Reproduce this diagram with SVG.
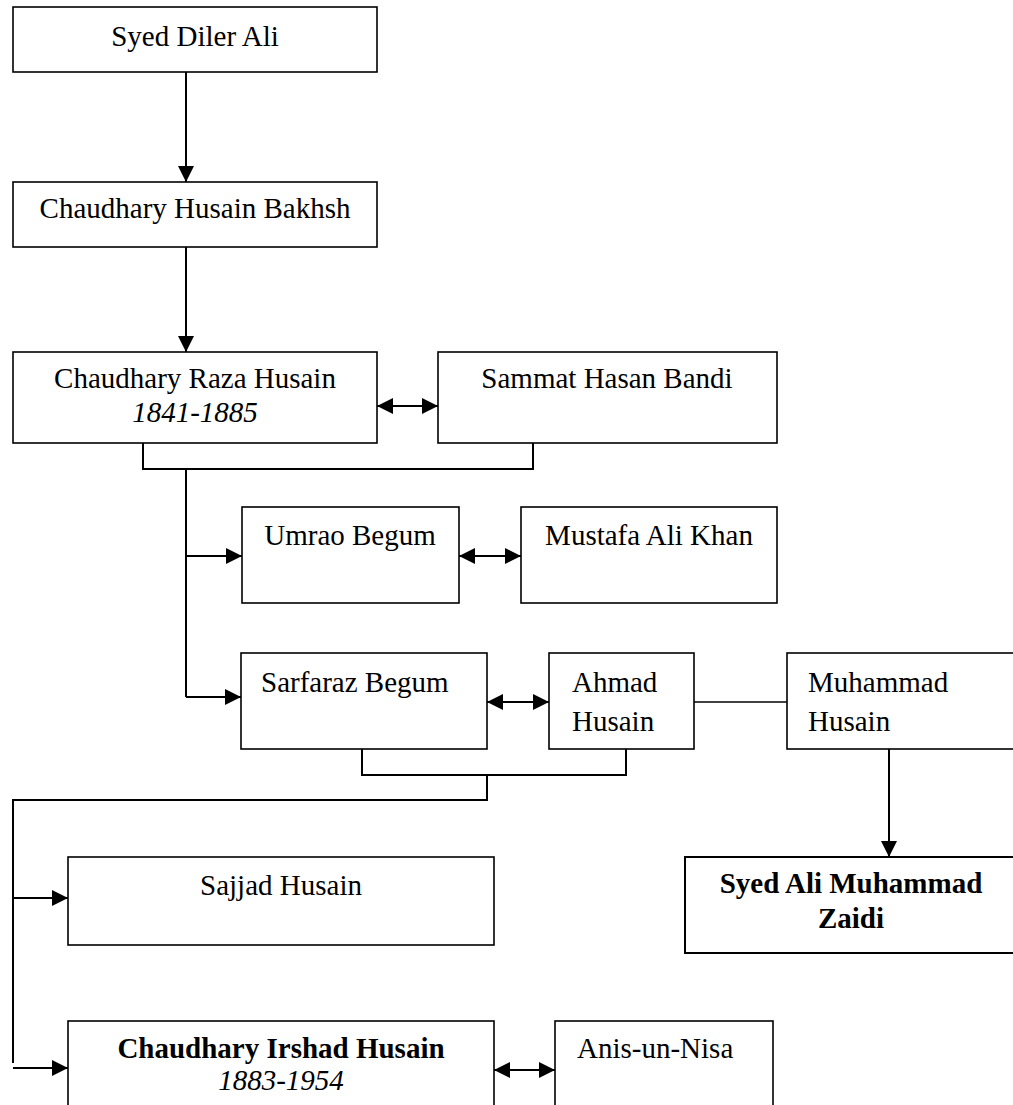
<svg xmlns="http://www.w3.org/2000/svg" width="1013" height="1105" viewBox="0 0 1013 1105">
  <style>
    .box { fill: #ffffff; stroke: #000000; stroke-width: 1.6; }
    .box.strong { stroke-width: 2; }
    .t { font-family: "Liberation Serif", "Times New Roman", serif; font-size: 29px; fill: #000000; }
    .c { text-anchor: middle; }
    .i { font-style: italic; }
    .b { font-weight: bold; }
    .wire { fill: none; stroke: #000000; stroke-width: 2; }
    .arrow { marker-end: url(#head); }
    .both { marker-start: url(#head); marker-end: url(#head); }
  </style>
  <defs>
    <marker id="head" markerUnits="userSpaceOnUse" markerWidth="18" markerHeight="18" refX="16" refY="8" orient="auto-start-reverse">
      <path d="M0,0 L16,8 L0,16 Z" fill="#000000"/>
    </marker>
  </defs>
  <rect width="1013" height="1105" fill="#ffffff"/>

  <!-- connectors -->
  <g id="connectors">
    <line class="wire arrow" x1="186" y1="72" x2="186" y2="182"/>
    <line class="wire arrow" x1="186" y1="247" x2="186" y2="352"/>
    <line class="wire both" x1="377" y1="406" x2="438" y2="406"/>
    <path class="wire" d="M143,443 V469 H533 V443"/>
    <line class="wire" x1="186" y1="469" x2="186" y2="697"/>
    <line class="wire arrow" x1="186" y1="556" x2="242" y2="556"/>
    <line class="wire both" x1="459" y1="556" x2="521" y2="556"/>
    <line class="wire arrow" x1="186" y1="697" x2="241" y2="697"/>
    <line class="wire both" x1="487" y1="702" x2="549" y2="702"/>
    <line class="wire" x1="694" y1="702" x2="787" y2="702" style="stroke-width:1.6"/>
    <path class="wire" d="M362,749 V775 H626 V749"/>
    <path class="wire" d="M487,775 V800 H13 V1063"/>
    <line class="wire arrow" x1="13" y1="898" x2="68" y2="898"/>
    <line class="wire arrow" x1="13" y1="1068" x2="68" y2="1068"/>
    <line class="wire both" x1="494" y1="1070" x2="555" y2="1070"/>
    <line class="wire arrow" x1="889" y1="749" x2="889" y2="857"/>
  </g>

  <!-- people -->
  <g id="syed-diler-ali">
    <rect class="box" x="13" y="7" width="364" height="65"/>
    <text class="t c" x="195" y="46">Syed Diler Ali</text>
  </g>
  <g id="husain-bakhsh">
    <rect class="box" x="13" y="182" width="364" height="65"/>
    <text class="t c" x="195" y="218">Chaudhary Husain Bakhsh</text>
  </g>
  <g id="raza-husain">
    <rect class="box" x="13" y="352" width="364" height="91"/>
    <text class="t c" x="195" y="388">Chaudhary Raza Husain</text>
    <text class="t c i" x="195" y="422">1841-1885</text>
  </g>
  <g id="sammat-hasan-bandi">
    <rect class="box" x="438" y="352" width="339" height="91"/>
    <text class="t c" x="607" y="388">Sammat Hasan Bandi</text>
  </g>
  <g id="umrao-begum">
    <rect class="box" x="242" y="507" width="217" height="96"/>
    <text class="t c" x="350" y="545">Umrao Begum</text>
  </g>
  <g id="mustafa-ali-khan">
    <rect class="box" x="521" y="507" width="256" height="96"/>
    <text class="t c" x="649" y="545">Mustafa Ali Khan</text>
  </g>
  <g id="sarfaraz-begum">
    <rect class="box" x="241" y="653" width="246" height="96"/>
    <text class="t" x="261" y="692">Sarfaraz Begum</text>
  </g>
  <g id="ahmad-husain">
    <rect class="box" x="549" y="653" width="145" height="96"/>
    <text class="t" x="572" y="692">Ahmad</text>
    <text class="t" x="572" y="731">Husain</text>
  </g>
  <g id="muhammad-husain">
    <rect class="box" x="787" y="653" width="240" height="96"/>
    <text class="t" x="808" y="692">Muhammad</text>
    <text class="t" x="808" y="731">Husain</text>
  </g>
  <g id="ali-muhammad-zaidi">
    <rect class="box strong" x="685" y="857" width="340" height="96"/>
    <text class="t c b" x="851" y="893">Syed Ali Muhammad</text>
    <text class="t c b" x="851" y="928">Zaidi</text>
  </g>
  <g id="sajjad-husain">
    <rect class="box" x="68" y="857" width="426" height="88"/>
    <text class="t c" x="281" y="895">Sajjad Husain</text>
  </g>
  <g id="irshad-husain">
    <rect class="box" x="68" y="1021" width="426" height="110"/>
    <text class="t c b" x="281" y="1058">Chaudhary Irshad Husain</text>
    <text class="t c i" x="281" y="1090">1883-1954</text>
  </g>
  <g id="anis-un-nisa">
    <rect class="box" x="555" y="1021" width="218" height="110"/>
    <text class="t" x="577" y="1058">Anis-un-Nisa</text>
  </g>
</svg>
